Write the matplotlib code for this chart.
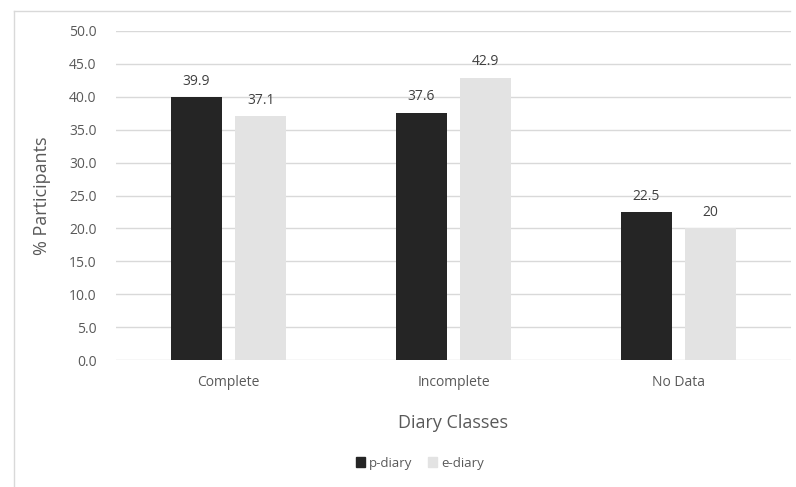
import matplotlib
matplotlib.use("Agg")
import matplotlib.pyplot as plt
from matplotlib.lines import Line2D
import numpy as np

categories = ["Complete", "Incomplete", "No Data"]
p_diary = [39.9, 37.6, 22.5]
e_diary = [37.1, 42.9, 20]
p_labels = ["39.9", "37.6", "22.5"]
e_labels = ["37.1", "42.9", "20"]
yticks = [0, 5, 10, 15, 20, 25, 30, 35, 40, 45, 50]

plt.rcParams['font.family'] = ['Open Sans', 'DejaVu Sans']

W, H = 796, 487
fig = plt.figure(figsize=(W/100, H/100), dpi=100)
ax = fig.add_axes([116/W, 1-360/H, (791-116)/W, (360-31)/H])

x = np.arange(len(categories))
bw = 0.227
off = 0.143
c_p = "#252525"
c_e = "#e3e3e3"
ax.bar(x - off, p_diary, bw, color=c_p, zorder=3, label="p-diary")
ax.bar(x + off, e_diary, bw, color=c_e, zorder=3, label="e-diary")

for xi, v, t in zip(x - off, p_diary, p_labels):
    ax.annotate(t, (xi, v), xytext=(0, 6), textcoords="offset points",
                ha="center", va="bottom", fontsize=10, color="#404040")
for xi, v, t in zip(x + off, e_diary, e_labels):
    ax.annotate(t, (xi, v), xytext=(0, 6), textcoords="offset points",
                ha="center", va="bottom", fontsize=10, color="#404040")

ax.set_xlim(-0.5, 2.5)
ax.set_ylim(0, 50)
ax.set_yticks(yticks)
ax.set_yticklabels([f"{v:.1f}" for v in yticks], fontsize=10, color="#595959")
ax.set_xticks(x)
ax.set_xticklabels(categories, fontsize=10, color="#595959")
ax.tick_params(axis="both", length=0)
ax.tick_params(axis="y", pad=14)
ax.tick_params(axis="x", pad=11)
ax.grid(axis="y", color="#d9d9d9", linewidth=1, zorder=0)
for s in ax.spines.values():
    s.set_visible(False)
ax.set_axisbelow(True)

ax.set_ylabel("% Participants", fontsize=13, color="#595959", labelpad=13)
ax.set_xlabel("Diary Classes", fontsize=13, color="#595959", labelpad=17)

handles = [plt.Rectangle((0, 0), 1, 1, color=c_p), plt.Rectangle((0, 0), 1, 1, color=c_e)]
fig.legend(handles, ["p-diary", "e-diary"], loc="center", bbox_to_anchor=(420/W, 1-463/H),
           ncol=2, frameon=False, fontsize=9.5, handlelength=0.7, handleheight=0.7,
           handletextpad=0.3, columnspacing=1.2, labelcolor="#595959")

# outer chart border (left and top)
fig.add_artist(Line2D([14/W, 14/W], [0, 1-11/H], color="#d9d9d9", linewidth=1, transform=fig.transFigure))
fig.add_artist(Line2D([14/W, 790/W], [1-11/H, 1-11/H], color="#d9d9d9", linewidth=1, transform=fig.transFigure))

fig.savefig("out.png", dpi=100)
